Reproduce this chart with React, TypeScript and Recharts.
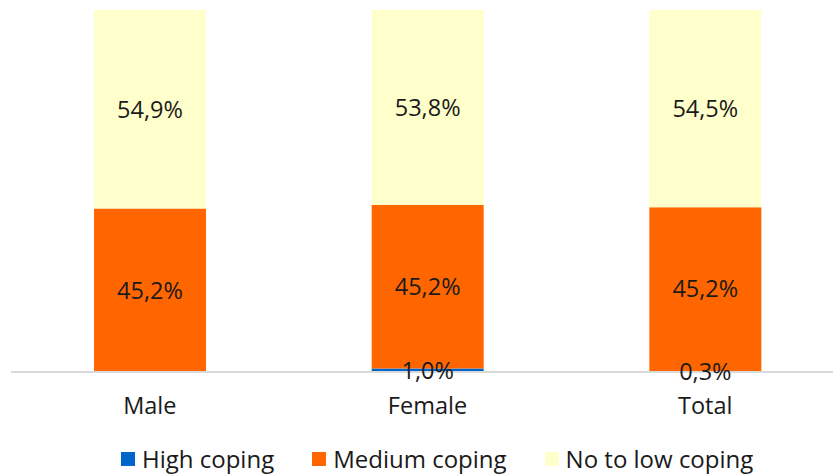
import React from "react";
import { Bar, BarChart, LabelList, Legend, XAxis, YAxis } from "recharts";

const groups = ["Male", "Female", "Total"];
const highCoping = [0, 1.0, 0.3];
const mediumCoping = [45.2, 45.2, 45.2];
const lowCoping = [54.9, 53.8, 54.5];

const series = [
	{ key: "high", name: "High coping", color: "#0066CC" },
	{ key: "medium", name: "Medium coping", color: "#FF6600" },
	{ key: "low", name: "No to low coping", color: "#FFFFCC" },
];

const rows = groups.map((g, i) => ({
	group: g,
	high: highCoping[i],
	medium: mediumCoping[i],
	low: lowCoping[i],
}));

const FONT = "'Open Sans', sans-serif";

const pct = (v: any) =>
	v ? `${Number(v).toFixed(1).replace(".", ",")}%` : "";

function CopingLegend() {
	return (
		<div
			style={{
				display: "flex",
				justifyContent: "flex-start",
				gap: 38,
				fontFamily: FONT,
				fontSize: 24,
				color: "#1a1a1a",
				paddingLeft: 110,
				paddingTop: 16,
			}}
		>
			{series.map((s) => (
				<div key={s.key} style={{ display: "flex", alignItems: "center" }}>
					<span
						style={{
							display: "inline-block",
							width: 14,
							height: 14,
							background: s.color,
							marginRight: 7,
						}}
					/>
					{s.name}
				</div>
			))}
		</div>
	);
}

export default function App() {
	return (
		<div
			style={{
				position: "fixed",
				left: 0,
				top: 0,
				width: 833,
				height: 476,
				overflow: "hidden",
				background: "#fff",
			}}
		>
			<BarChart
				width={850}
				height={476}
				data={rows}
				margin={{ top: 10, right: 6, left: 11, bottom: 0 }}
				barSize={112}
			>
				<YAxis hide domain={[0, 100]} allowDataOverflow />
				<XAxis
					dataKey="group"
					axisLine={{ stroke: "#d9d9d9", strokeWidth: 2 }}
					tickLine={false}
					tickMargin={19}
					height={54}
					tick={{ fill: "#1a1a1a", fontSize: 23.5, fontFamily: FONT }}
				/>
				<Legend
					verticalAlign="bottom"
					height={50}
					content={() => <CopingLegend />}
				/>
				{series.map((s) => (
					<Bar
						key={s.key}
						dataKey={s.key}
						name={s.name}
						stackId="coping"
						fill={s.color}
						isAnimationActive={false}
					>
						<LabelList
							dataKey={s.key}
							position="center"
							formatter={pct}
							style={{ fill: "#1a1a1a", fontSize: 23.5, fontFamily: FONT }}
						/>
					</Bar>
				))}
			</BarChart>
		</div>
	);
}
